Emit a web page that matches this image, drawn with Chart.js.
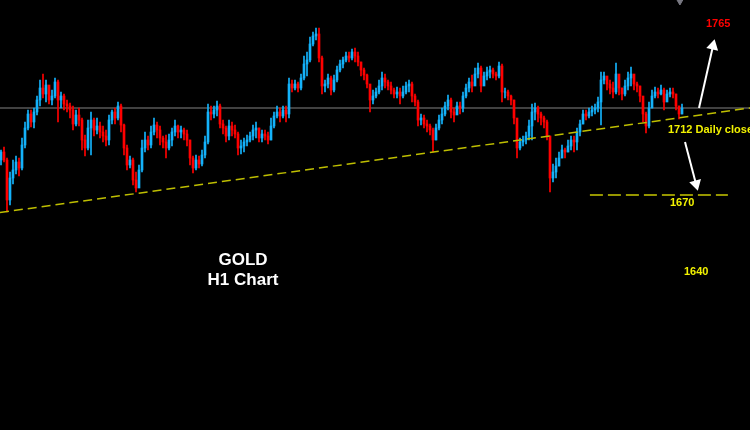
<!DOCTYPE html>
<html><head><meta charset="utf-8">
<script src="https://cdn.jsdelivr.net/npm/chart.js@4.4.1/dist/chart.umd.min.js"></script>
<style>html,body{margin:0;padding:0;background:#000;overflow:hidden}#wrap{width:750px;height:430px;position:relative}</style>
</head><body><div id="wrap"><canvas id="c" width="750" height="430"></canvas></div>
<script>
// ---- data (GOLD, H1) ----
const firstOpen = 1686;
const closes = [1690,1686,1666,1677,1681,1685,1682,1693.5,1702,1709,
1705,1710,1716,1722,1719,1723.5,1716,1718,1725,1716,
1718,1714,1713,1711,1704,1708.5,1706,1696,1692,1702,
1706,1701,1703,1700,1698,1696,1706,1710,1707,1713,
1703.5,1692,1683.5,1686,1676,1672,1681,1692,1696,1693.5,
1700,1703.5,1701,1697,1695,1692,1696,1700,1703,1700,
1701,1699,1696,1687,1682,1686,1684,1688.5,1695,1710,
1709,1711,1713,1704,1702,1698,1703,1701,1699,1692,
1693,1695,1696,1698,1701,1702,1697,1699,1698,1696,
1703,1708,1710,1708,1711,1709,1724,1722,1724,1722,
1727,1734,1736,1744,1748,1749,1737,1723,1724,1727,
1721,1726,1731,1734,1736,1738,1737,1740,1738,1735,
1731,1728.5,1724,1716,1718,1720,1723,1727,1725,1723,
1721,1719,1720,1718,1720,1723,1724,1718,1715,1706,
1707,1704,1703,1701,1696,1702,1706,1709,1713,1716,
1710,1708.5,1713,1712,1718,1722,1725,1723,1729,1732,
1723,1728,1730,1731,1729,1728,1733,1720,1720,1718,
1716,1707,1692,1695,1696,1698,1703,1710,1712,1709,
1707,1705,1698,1677,1680,1683,1687,1691,1690,1693,
1696,1695,1700,1704,1709,1708,1710,1711,1712,1715,
1726,1728,1724,1722,1720,1729,1722,1719,1723,1727,
1729,1724,1723,1718,1709,1703,1712,1718,1720,1719,
1721,1715,1719,1720,1719,1713,1709,1712];
const highs = [1691,1692.5,1687,1680,1686,1688,1687,1697,1705,1711,
1711,1712,1718,1726,1729,1726,1722,1721,1727,1726,
1720,1719,1716,1714.5,1713,1711,1712,1707,1698.5,1706,
1710,1707,1707,1705,1703,1701,1708.5,1711,1712,1715,
1714,1704,1693.5,1688,1687,1680,1683.5,1696,1700,1698,
1703,1707,1705,1703,1698,1698.5,1699,1702,1706,1703.5,
1703,1702,1701,1696,1688,1688.5,1688,1691,1698,1714,
1713,1713,1715.5,1714,1706,1703,1706,1705,1703.5,1700,
1696,1697,1698.5,1700,1703.5,1705,1702,1701,1701,1700,
1707,1710,1713,1712,1713,1713,1727,1726,1726,1725,
1729,1738,1740,1747.5,1750,1752,1752,1738,1726,1729,
1728,1728.5,1733,1736,1737.5,1740,1740,1741.5,1742,1740,
1735,1732,1729,1723,1721,1722,1726,1730,1729,1726,
1725,1722,1722.5,1722,1723,1725,1726,1725,1719,1716,
1709,1708.5,1706,1704,1702,1704,1708.5,1712,1715,1718.5,
1717,1712,1715,1715,1720,1724,1727,1728.5,1732,1734.5,
1733,1730,1732.5,1733,1732,1730,1735,1734,1722,1721,
1718.5,1716,1706,1697,1698,1700,1706,1714,1714.5,1713,
1710,1708,1706,1698,1684,1687,1690,1693.5,1692,1696,
1698,1698,1702,1706,1711,1711,1712,1713,1714,1717.5,
1730,1730,1727,1726,1725,1734.5,1726,1722,1726,1730,
1732.5,1727,1725,1723,1717,1710,1715,1721,1722.5,1722,
1723.5,1722,1721,1722,1722,1719,1713,1714];
const lows = [1683.5,1685,1660,1663.5,1674,1679,1678,1681,1692,1701,
1702.5,1702,1708.5,1713,1717,1715,1714,1713.5,1717,1705,
1712,1711,1710,1707,1701,1703,1703,1691,1688,1691,
1688.5,1698,1699,1697,1695,1693,1693.5,1704,1704,1706,
1700,1688.5,1681,1682,1673.5,1670,1673.5,1680,1690,1691,
1692,1698.5,1697,1693.5,1692,1687,1691,1693,1698,1697,
1697,1696,1693,1683.5,1679.5,1681,1682,1683,1687,1694,
1706,1707,1708,1702,1699,1695,1696,1698,1697,1688.5,
1689,1690,1693,1695,1696,1697,1695,1695,1696,1694,
1696,1702,1707,1705,1707,1705,1707,1720,1721,1720,
1721,1726,1728,1735,1743,1746,1735,1719,1720,1722,
1718.5,1720,1725,1730,1732,1735,1735,1736,1735,1733,
1728,1726,1722,1710,1714,1717,1719,1721,1722,1721,
1719,1717,1717,1714,1717,1719,1720,1715,1713,1703,
1703.5,1702,1700,1698.5,1690,1696,1701,1704,1708,1711,
1707,1705,1709,1709,1710,1717,1720,1720,1726,1727,
1720,1724,1726,1727,1727,1726,1727,1715,1717,1716,
1713.5,1704,1687,1691,1693,1694,1696,1696,1706,1705,
1703.5,1702,1696,1670,1675,1677,1683,1687,1687,1690,
1691,1690,1691,1698,1704,1706,1707,1708,1709,1710,
1703.5,1724,1721,1719,1717,1719,1718.5,1716,1718,1721,
1723,1721,1720,1715,1705,1699.5,1702,1712,1717,1717,
1718.5,1711,1716,1717.5,1717,1711,1706.5,1709];
const dailyClose = 1712;          // grey horizontal level
const trendFrom = 1659.75;        // rising support line, left end
const trendTo = 1712;             // rising support line, right end
const targetLevel = 1668.5;       // dashed target line (1670)
const levelLabels = ['1765', '1712 Daily close', '1670', '1640'];
const titleLines = ['GOLD', 'H1 Chart'];

// ---- build ----
const opens = closes.map((c, i) => i === 0 ? firstOpen : closes[i - 1]);
const UP = 'rgb(20,178,250)', DOWN = 'rgb(255,0,0)';
const col = closes.map((c, i) => c >= opens[i] ? UP : DOWN);
const bodies = closes.map((c, i) => ({x: i, y: [opens[i], c]}));
const wicks = closes.map((c, i) => ({x: i, y: [lows[i], highs[i]]}));
const XMIN = -1/3, XMAX = 250 - 1/3;

const bg = {id: 'bg', beforeDraw(ch) {const c = ch.ctx; c.save(); c.fillStyle = '#000'; c.fillRect(0, 0, ch.width, ch.height); c.restore();}};
const txt = {id: 'txt', afterDraw(ch) {
  const c = ch.ctx; c.save(); c.textBaseline = 'alphabetic';
  c.font = 'bold 17px "Liberation Sans", Arial, sans-serif'; c.fillStyle = '#ffffff'; c.textAlign = 'center';
  c.fillText(titleLines[0], 243, 265); c.fillText(titleLines[1], 243, 285);
  c.textAlign = 'left'; c.font = 'bold 11px "Liberation Sans", Arial, sans-serif';
  c.fillStyle = '#ff0000'; c.fillText(levelLabels[0], 706, 27);
  c.fillStyle = '#f2f200';
  c.fillText(levelLabels[1], 668, 133);
  c.fillText(levelLabels[2], 670, 206);
  c.fillText(levelLabels[3], 684, 275);
  c.restore();
}};

new Chart(document.getElementById('c'), {
  type: 'bar',
  data: {datasets: [
    {type: 'bar', data: wicks, backgroundColor: col, barThickness: 1, grouped: false, borderWidth: 0, order: 1},
    {type: 'bar', data: bodies, backgroundColor: col, barThickness: 2, grouped: false, borderWidth: 0, order: 0},
    {type: 'line', data: [{x: XMIN, y: dailyClose}, {x: XMAX, y: dailyClose}], borderColor: 'rgb(130,130,130)', borderWidth: 1, pointRadius: 0, order: 3},
    {type: 'line', data: [{x: XMIN, y: trendFrom}, {x: XMAX, y: trendTo}], borderColor: 'rgb(190,190,0)', borderWidth: 1.5, borderDash: [9, 5], pointRadius: 0, order: -1},
    {type: 'line', data: [{x: 196.3, y: targetLevel}, {x: 242.3, y: targetLevel}], borderColor: 'rgb(200,200,0)', borderWidth: 1.5, borderDash: [13, 5], pointRadius: 0, order: -1},
    {type: 'line', data: [{x: 232.67, y: 1712}, {x: 237.33, y: 1743}], borderColor: '#fff', borderWidth: 2, pointRadius: [0, 5], pointStyle: 'triangle', pointRotation: [0, 13], pointBackgroundColor: '#fff', pointBorderColor: '#fff', order: -2},
    {type: 'line', data: [{x: 228, y: 1695}, {x: 231.67, y: 1674}], borderColor: '#fff', borderWidth: 2, pointRadius: [0, 5], pointStyle: 'triangle', pointRotation: [0, 165], pointBackgroundColor: '#fff', pointBorderColor: '#fff', order: -2},
    {type: 'line', data: [{x: 226.3, y: 1765.5}], showLine: false, pointRadius: 4, pointStyle: 'triangle', pointRotation: 180, pointBackgroundColor: 'rgb(120,120,130)', pointBorderColor: 'rgb(120,120,130)', order: -2}
  ]},
  options: {
    responsive: false, animation: false, events: [],
    layout: {padding: 0, autoPadding: false},
    plugins: {legend: {display: false}, tooltip: {enabled: false}},
    scales: {
      x: {type: 'linear', min: XMIN, max: XMAX, display: false, offset: false},
      y: {type: 'linear', min: 1551, max: 1766, display: false}
    }
  },
  plugins: [bg, txt]
});
</script></body></html>
